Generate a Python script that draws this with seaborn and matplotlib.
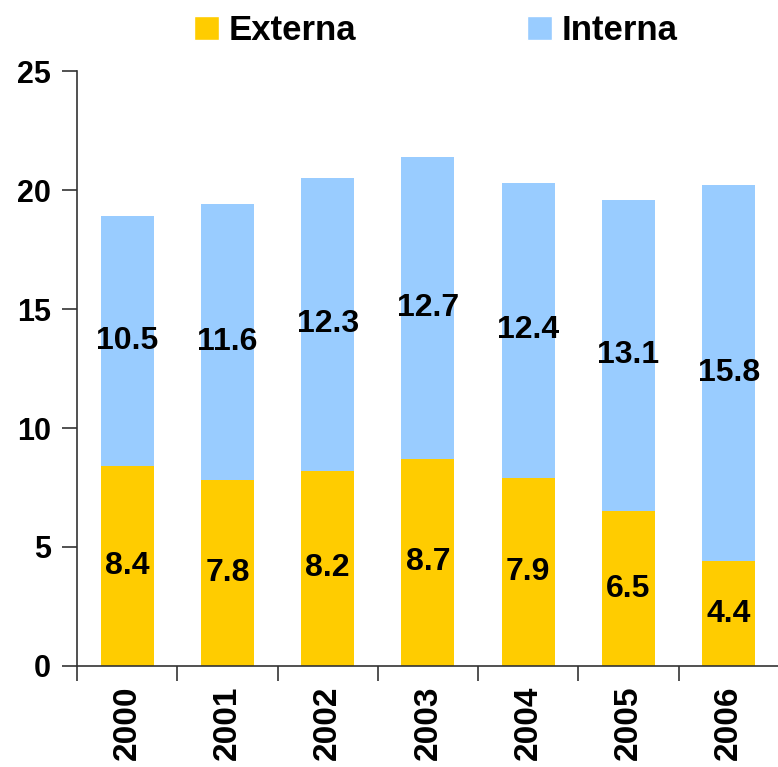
import matplotlib
matplotlib.use("Agg")
from matplotlib import pyplot as plt
from matplotlib.patches import Patch
from matplotlib.ticker import FixedLocator
import pandas as pd
import seaborn as sns

years = ["2000", "2001", "2002", "2003", "2004", "2005", "2006"]
externa = [8.4, 7.8, 8.2, 8.7, 7.9, 6.5, 4.4]
interna = [10.5, 11.6, 12.3, 12.7, 12.4, 13.1, 15.8]

yellow = "#FFCC00"
blue = "#99CCFF"

df = pd.DataFrame({"year": years, "externa": externa, "interna": interna})
df["total"] = df["externa"] + df["interna"]

sns.set_style("white")
plt.rcParams["font.family"] = ["Liberation Sans", "DejaVu Sans"]
plt.rcParams["font.weight"] = "bold"
plt.rcParams["text.color"] = "black"
plt.rcParams["xtick.color"] = "#333333"
plt.rcParams["ytick.color"] = "#333333"
plt.rcParams["xtick.labelcolor"] = "black"
plt.rcParams["ytick.labelcolor"] = "black"

fig = plt.figure(figsize=(7.78, 7.67), dpi=100)
ax = fig.add_axes([0.099, 0.1317, 0.902, 0.7757])

# stacked: total (interna on top) first, then externa over it
sns.barplot(data=df, x="year", y="total", color=blue, width=0.53, saturation=1,
            edgecolor="none", linewidth=0, ax=ax)
sns.barplot(data=df, x="year", y="externa", color=yellow, width=0.53, saturation=1,
            edgecolor="none", linewidth=0, ax=ax)

for i, row in df.iterrows():
    ax.text(i, row["externa"] / 2, f"{row['externa']:.1f}", ha="center", va="center",
            fontsize=23, fontweight="bold", color="black")
    ax.text(i, row["externa"] + row["interna"] / 2, f"{row['interna']:.1f}", ha="center", va="center",
            fontsize=23, fontweight="bold", color="black")

ax.set_xlim(-0.5, len(years) - 0.5)
ax.set_ylim(0, 25)
ax.set_yticks([0, 5, 10, 15, 20, 25])
ax.set_xlabel("")
ax.set_ylabel("")

for s in ["top", "right"]:
    ax.spines[s].set_visible(False)
for s in ["left", "bottom"]:
    ax.spines[s].set_color("#333333")
    ax.spines[s].set_linewidth(1.2)

# category boundary ticks on x
ax.xaxis.set_minor_locator(FixedLocator([i - 0.5 for i in range(len(years) + 1)]))
ax.tick_params(axis="x", which="major", bottom=True, length=0, pad=14, labelsize=24, rotation=90)
ax.tick_params(axis="x", which="minor", bottom=True, length=11, width=1.2, direction="out")
ax.tick_params(axis="y", left=True, length=11, width=1.2, direction="out", labelsize=22, pad=8)
for lbl in ax.get_xticklabels() + ax.get_yticklabels():
    lbl.set_fontweight("bold")

handles = [Patch(facecolor=yellow, label="Externa"), Patch(facecolor=blue, label="Interna")]
leg = fig.legend(handles=handles, loc="upper center", bbox_to_anchor=(0.56, 1.022), ncol=2, frameon=False,
                 prop={"size": 25, "weight": "bold"}, handlelength=0.72, handleheight=0.66,
                 handletextpad=0.3, columnspacing=4.9)
for t in leg.get_texts():
    t.set_color("black")

plt.savefig("out.png", dpi=100)
plt.close()
